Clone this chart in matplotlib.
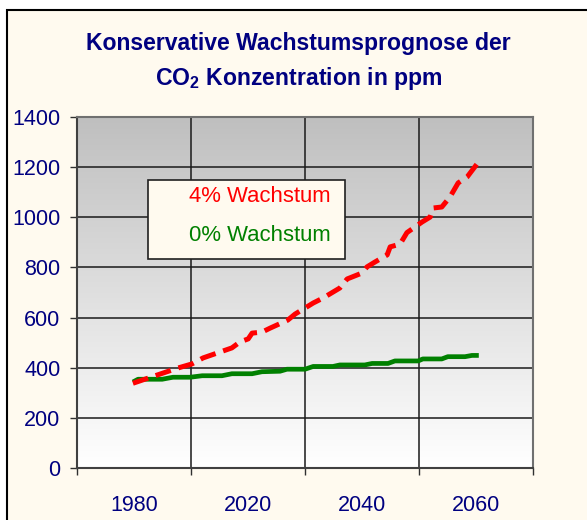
import numpy as np
import matplotlib
matplotlib.use("Agg")
import matplotlib.pyplot as plt
from matplotlib.colors import LinearSegmentedColormap
from matplotlib.patches import Rectangle

plt.rcParams['font.family'] = ['Liberation Sans', 'DejaVu Sans']
plt.rcParams['mathtext.fontset'] = 'custom'
plt.rcParams['mathtext.bf'] = 'Liberation Sans:bold'
plt.rcParams['mathtext.rm'] = 'Liberation Sans'

# ---- data ----
red_years = [1980.0, 1990.5, 1993.7, 1996.3, 2003.0, 2004.9, 2006.8, 2007.7, 2010.0,
             2011.9, 2016.0, 2017.7, 2020.0, 2021.9, 2024.2, 2028.1, 2029.8, 2033.3,
             2034.4, 2036.3, 2039.1, 2039.8, 2042.1, 2043.7, 2047.2, 2049.1, 2049.8,
             2051.8, 2053.7, 2055.6, 2057.7, 2060.0]
red_values = [338, 399, 415, 439, 479, 503, 515, 538, 542,
              558, 590, 614, 638, 658, 678, 718, 754, 778,
              802, 822, 850, 882, 893, 939, 981, 1001, 1037,
              1041, 1081, 1137, 1161, 1213]

green_years = [1980.0, 1981.2, 1986.8, 1989.3, 1993.3, 1996.1, 2000.7, 2003.0, 2007.7,
               2010.0, 2014.2, 2015.8, 2020.0, 2021.9, 2026.5, 2028.1, 2033.9, 2035.6,
               2039.3, 2040.9, 2046.3, 2047.4, 2051.8, 2053.2, 2057.2, 2058.8, 2060.4]
green_values = [343, 354, 354, 362, 362, 368, 368, 376, 376,
                384, 386, 394, 394, 405, 405, 411, 411, 417,
                417, 427, 427, 435, 435, 444, 444, 449, 449]

series_labels = ["4% Wachstum", "0% Wachstum"]
x_tick_labels = ["1980", "2020", "2040", "2060"]
y_ticks = [0, 200, 400, 600, 800, 1000, 1200, 1400]
x_range = (1967, 2073)
title_line1 = "Konservative Wachstumsprognose der"
title_line2 = r"CO$_\mathbf{2}$ Konzentration in ppm"

# ---- figure ----
W, H = 587, 520
fig = plt.figure(figsize=(W / 100, H / 100), dpi=100, facecolor='white')

def fx(px):
    return px / W

def fy(py):
    return 1 - py / H

# cream chart area with border (left/top visible)
bg = Rectangle((fx(6.5), -0.1), 1.2, fy(9.5) + 0.1, transform=fig.transFigure,
               facecolor='#FFFAEF', edgecolor='black', linewidth=1.5, zorder=-10)
fig.add_artist(bg)

navy = '#000080'
ax = fig.add_axes([fx(77), fy(468), fx(533) - fx(77), fy(117) - fy(468)])
ax.set_zorder(1)
ax.set_facecolor('white')

# gradient background
cmap = LinearSegmentedColormap.from_list('g', ['#FFFFFF', '#BFBFBF'])
grad = np.linspace(0, 1, 256).reshape(-1, 1)
ax.imshow(grad, cmap=cmap, origin='lower', extent=[0, 1, 0, 1], transform=ax.transAxes,
          aspect='auto', zorder=0)

ax.set_xlim(*x_range)
ax.set_ylim(0, 1400)

bounds = np.linspace(x_range[0], x_range[1], 5)
centers = (bounds[:-1] + bounds[1:]) / 2

ax.set_yticks(y_ticks)
ax.set_xticks(bounds)
ax.set_xticklabels([])
ax.set_xticks(centers, minor=True)
ax.set_xticklabels(x_tick_labels, minor=True)
ax.tick_params(axis='x', which='minor', length=0, pad=19.5, labelsize=15.5, labelcolor=navy)
ax.tick_params(axis='x', which='major', length=5, width=1, color='#303030', direction='out')
ax.tick_params(axis='y', length=5, width=1, color='#303030', direction='out', pad=7,
               labelsize=15.5, labelcolor=navy)

ax.grid(True, which='major', color='#1A1A1A', linewidth=1.1, zorder=1)
ax.set_axisbelow(True)

for s in ['left', 'bottom']:
    ax.spines[s].set_color('#404040')
    ax.spines[s].set_linewidth(1.5)
for s in ['top', 'right']:
    ax.spines[s].set_color('#707070')
    ax.spines[s].set_linewidth(1.5)

ax.plot(green_years, green_values, color='#008000', linewidth=3.4, solid_capstyle='butt',
        solid_joinstyle='round', zorder=3)
ax.plot(red_years, red_values, color='#FF0000', linewidth=3.6, dashes=(3.2, 1.6),
        dash_capstyle='butt', zorder=4)

# legend box
lg = Rectangle((fx(148), fy(259)), fx(345) - fx(148), fy(180) - fy(259),
               transform=fig.transFigure, facecolor='#FFFAEF',
               edgecolor='#202020', linewidth=1.2, zorder=5)
fig.add_artist(lg)
fig.text(fx(189), fy(197), series_labels[0], color='#FF0000', fontsize=15.9,
         ha='left', va='center', zorder=6)
fig.text(fx(189), fy(236), series_labels[1], color='#008000', fontsize=15.9,
         ha='left', va='center', zorder=6)

# title
fig.text(fx(298.5), fy(50), title_line1, color=navy, fontsize=16.6, fontweight='bold',
         ha='center', va='baseline')
fig.text(fx(298.5), fy(85), title_line2, color=navy, fontsize=16.6, fontweight='bold',
         ha='center', va='baseline')

fig.savefig('out.png', dpi=100, facecolor='white')
